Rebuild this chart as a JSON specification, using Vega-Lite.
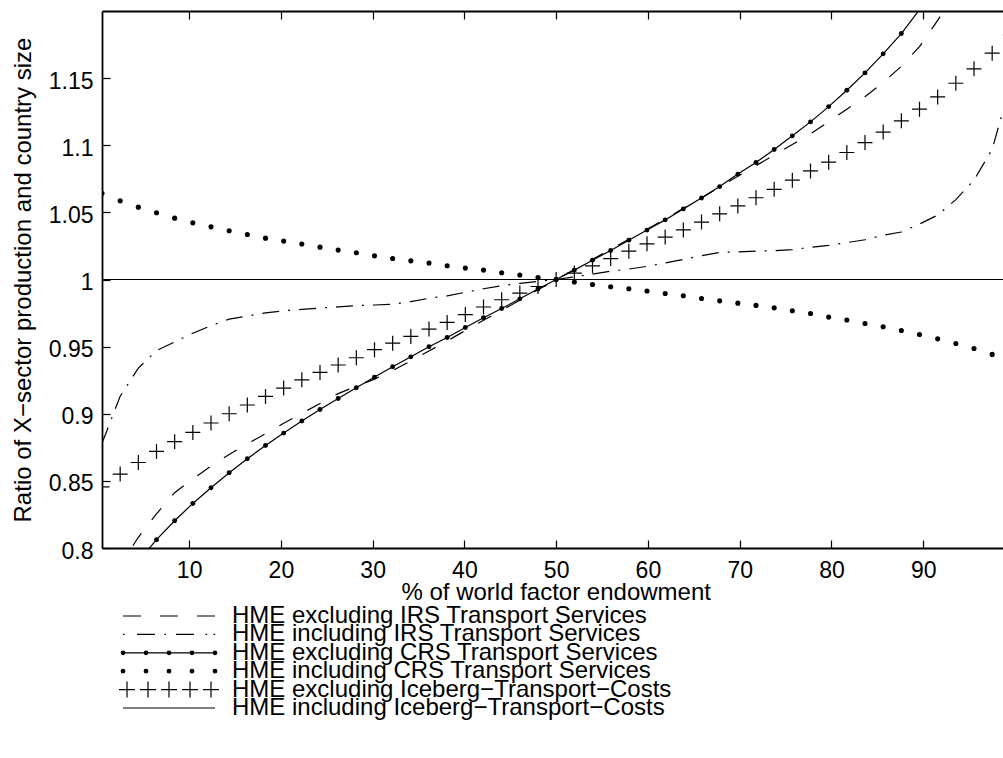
{
  "$schema": "https://vega.github.io/schema/vega-lite/v6.json",
  "width": 901,
  "height": 537,
  "autosize": {"type": "none"},
  "padding": {"left": 102, "top": 11, "right": 0, "bottom": 210},
  "background": "white",
  "config": {"view": {"stroke": null}, "font": "Liberation Sans", "axis": {"grid": false}},
  "resolve": {"axis": {"x": "independent", "y": "independent"}, "scale": {"shape": "independent"}, "legend": {"shape": "independent"}},
  "datasets": {
    "legendA": [
      {"series": "HME excluding IRS Transport Services"},
      {"series": "HME excluding CRS Transport Services"},
      {"series": "HME excluding Iceberg−Transport−Costs"}
    ],
    "legendB": [
      {"series": "HME including IRS Transport Services"},
      {"series": "HME including CRS Transport Services"},
      {"series": "HME including Iceberg−Transport−Costs"}
    ],
    "iceIncl": [{"x": 0.5, "y": 1}, {"x": 99.5, "y": 1}],
    "irsExcl": [
      {"x": 0.5, "y": 0.760}, {"x": 2.48, "y": 0.787}, {"x": 4.46, "y": 0.808}, {"x": 6.44, "y": 0.8255}, {"x": 8.42, "y": 0.8412},
      {"x": 10.4, "y": 0.8515}, {"x": 12.38, "y": 0.861}, {"x": 14.36, "y": 0.8697}, {"x": 16.34, "y": 0.8776}, {"x": 18.32, "y": 0.8852},
      {"x": 20.3, "y": 0.8929}, {"x": 22.28, "y": 0.9003}, {"x": 24.26, "y": 0.9076}, {"x": 26.24, "y": 0.915}, {"x": 28.22, "y": 0.9205},
      {"x": 30.2, "y": 0.9258}, {"x": 32.18, "y": 0.9322}, {"x": 34.16, "y": 0.9394}, {"x": 36.14, "y": 0.9468}, {"x": 38.12, "y": 0.9542},
      {"x": 40.1, "y": 0.962}, {"x": 42.08, "y": 0.9697}, {"x": 44.06, "y": 0.977}, {"x": 46.04, "y": 0.9846}, {"x": 48.02, "y": 0.9923},
      {"x": 50, "y": 1.0}, {"x": 51.98, "y": 1.0075}, {"x": 53.96, "y": 1.015}, {"x": 55.94, "y": 1.0225}, {"x": 57.92, "y": 1.03},
      {"x": 59.9, "y": 1.0375}, {"x": 61.88, "y": 1.045}, {"x": 63.86, "y": 1.053}, {"x": 65.84, "y": 1.0608}, {"x": 67.82, "y": 1.069},
      {"x": 69.8, "y": 1.0769}, {"x": 71.78, "y": 1.0848}, {"x": 73.76, "y": 1.0927}, {"x": 75.74, "y": 1.1006}, {"x": 77.72, "y": 1.1084},
      {"x": 79.7, "y": 1.1176}, {"x": 81.68, "y": 1.1269}, {"x": 83.66, "y": 1.1361}, {"x": 85.64, "y": 1.1467}, {"x": 87.62, "y": 1.1588},
      {"x": 89.6, "y": 1.1735}, {"x": 91.58, "y": 1.193}, {"x": 93.56, "y": 1.215}, {"x": 95.54, "y": 1.24}, {"x": 97.52, "y": 1.27},
      {"x": 99.5, "y": 1.30}
    ],
    "irsIncl": [
      {"x": 0.5, "y": 0.878}, {"x": 2.48, "y": 0.913}, {"x": 4.46, "y": 0.934}, {"x": 6.44, "y": 0.947}, {"x": 8.42, "y": 0.9535},
      {"x": 10.4, "y": 0.96}, {"x": 12.38, "y": 0.9656}, {"x": 14.36, "y": 0.9705}, {"x": 16.34, "y": 0.9728}, {"x": 18.32, "y": 0.9752},
      {"x": 20.3, "y": 0.9767}, {"x": 22.28, "y": 0.9777}, {"x": 24.26, "y": 0.9787}, {"x": 26.24, "y": 0.9796}, {"x": 28.22, "y": 0.9805},
      {"x": 30.2, "y": 0.981}, {"x": 32.18, "y": 0.9815}, {"x": 34.16, "y": 0.9835}, {"x": 36.14, "y": 0.986}, {"x": 38.12, "y": 0.9878},
      {"x": 40.1, "y": 0.9905}, {"x": 42.08, "y": 0.9931}, {"x": 44.06, "y": 0.9953}, {"x": 46.04, "y": 0.9971}, {"x": 48.02, "y": 0.9986},
      {"x": 50, "y": 1.0}, {"x": 51.98, "y": 1.002}, {"x": 53.96, "y": 1.004}, {"x": 55.94, "y": 1.0062}, {"x": 57.92, "y": 1.0078},
      {"x": 59.9, "y": 1.0098}, {"x": 61.88, "y": 1.0123}, {"x": 63.86, "y": 1.015}, {"x": 65.84, "y": 1.0177}, {"x": 67.82, "y": 1.0201},
      {"x": 69.8, "y": 1.0206}, {"x": 71.78, "y": 1.0211}, {"x": 73.76, "y": 1.0215}, {"x": 75.74, "y": 1.0222}, {"x": 77.72, "y": 1.024},
      {"x": 79.7, "y": 1.0254}, {"x": 81.68, "y": 1.0275}, {"x": 83.66, "y": 1.0296}, {"x": 85.64, "y": 1.033}, {"x": 87.62, "y": 1.0354},
      {"x": 89.6, "y": 1.0413}, {"x": 91.58, "y": 1.048}, {"x": 93.56, "y": 1.0595}, {"x": 95.54, "y": 1.074}, {"x": 97.52, "y": 1.097},
      {"x": 99.5, "y": 1.145}
    ],
    "crsExcl": [
      {"x": 0.5, "y": 0.750}, {"x": 2.48, "y": 0.772}, {"x": 4.46, "y": 0.790}, {"x": 6.44, "y": 0.8062}, {"x": 8.42, "y": 0.8203},
      {"x": 10.4, "y": 0.8332}, {"x": 12.38, "y": 0.8449}, {"x": 14.36, "y": 0.8561}, {"x": 16.34, "y": 0.8665}, {"x": 18.32, "y": 0.8764},
      {"x": 20.3, "y": 0.8856}, {"x": 22.28, "y": 0.8946}, {"x": 24.26, "y": 0.9032}, {"x": 26.24, "y": 0.9114}, {"x": 28.22, "y": 0.9194},
      {"x": 30.2, "y": 0.9273}, {"x": 32.18, "y": 0.935}, {"x": 34.16, "y": 0.9424}, {"x": 36.14, "y": 0.9499}, {"x": 38.12, "y": 0.9568},
      {"x": 40.1, "y": 0.9643}, {"x": 42.08, "y": 0.9715}, {"x": 44.06, "y": 0.9784}, {"x": 46.04, "y": 0.9856}, {"x": 48.02, "y": 0.9929},
      {"x": 50, "y": 1.0}, {"x": 51.98, "y": 1.007}, {"x": 53.96, "y": 1.0144}, {"x": 55.94, "y": 1.0216}, {"x": 57.92, "y": 1.0293},
      {"x": 59.9, "y": 1.0368}, {"x": 61.88, "y": 1.0444}, {"x": 63.86, "y": 1.0526}, {"x": 65.84, "y": 1.0607}, {"x": 67.82, "y": 1.0692},
      {"x": 69.8, "y": 1.0785}, {"x": 71.78, "y": 1.0871}, {"x": 73.76, "y": 1.0968}, {"x": 75.74, "y": 1.107}, {"x": 77.72, "y": 1.1174},
      {"x": 79.7, "y": 1.1288}, {"x": 81.68, "y": 1.141}, {"x": 83.66, "y": 1.1539}, {"x": 85.64, "y": 1.1681}, {"x": 87.62, "y": 1.1832},
      {"x": 89.6, "y": 1.201}, {"x": 91.58, "y": 1.2177}, {"x": 93.56, "y": 1.237}, {"x": 95.54, "y": 1.258}, {"x": 97.52, "y": 1.281},
      {"x": 99.5, "y": 1.306}
    ],
    "crsIncl": [
      {"x": 0.5, "y": 1.0643}, {"x": 2.48, "y": 1.0586}, {"x": 4.46, "y": 1.0539}, {"x": 6.44, "y": 1.0497}, {"x": 8.42, "y": 1.0457},
      {"x": 10.4, "y": 1.0422}, {"x": 12.38, "y": 1.0392}, {"x": 14.36, "y": 1.0363}, {"x": 16.34, "y": 1.0335}, {"x": 18.32, "y": 1.0308},
      {"x": 20.3, "y": 1.0286}, {"x": 22.28, "y": 1.0264}, {"x": 24.26, "y": 1.0241}, {"x": 26.24, "y": 1.0219}, {"x": 28.22, "y": 1.0199},
      {"x": 30.2, "y": 1.0176}, {"x": 32.18, "y": 1.0156}, {"x": 34.16, "y": 1.0139}, {"x": 36.14, "y": 1.0122}, {"x": 38.12, "y": 1.0102},
      {"x": 40.1, "y": 1.0085}, {"x": 42.08, "y": 1.007}, {"x": 44.06, "y": 1.005}, {"x": 46.04, "y": 1.0033}, {"x": 48.02, "y": 1.0015},
      {"x": 50, "y": 1.0}, {"x": 51.98, "y": 0.9981}, {"x": 53.96, "y": 0.9963}, {"x": 55.94, "y": 0.9946}, {"x": 57.92, "y": 0.9931},
      {"x": 59.9, "y": 0.9914}, {"x": 61.88, "y": 0.9896}, {"x": 63.86, "y": 0.9879}, {"x": 65.84, "y": 0.9859}, {"x": 67.82, "y": 0.9841},
      {"x": 69.8, "y": 0.9824}, {"x": 71.78, "y": 0.9807}, {"x": 73.76, "y": 0.9789}, {"x": 75.74, "y": 0.9767}, {"x": 77.72, "y": 0.9747},
      {"x": 79.7, "y": 0.972}, {"x": 81.68, "y": 0.9698}, {"x": 83.66, "y": 0.9672}, {"x": 85.64, "y": 0.9648}, {"x": 87.62, "y": 0.962},
      {"x": 89.6, "y": 0.959}, {"x": 91.58, "y": 0.9558}, {"x": 93.56, "y": 0.9523}, {"x": 95.54, "y": 0.9486}, {"x": 97.52, "y": 0.9442},
      {"x": 99.5, "y": 0.939}
    ],
    "iceExcl": [
      {"x": 0.5, "y": 0.8455}, {"x": 2.48, "y": 0.8551}, {"x": 4.46, "y": 0.8637}, {"x": 6.44, "y": 0.8719}, {"x": 8.42, "y": 0.8792},
      {"x": 10.4, "y": 0.8861}, {"x": 12.38, "y": 0.8931}, {"x": 14.36, "y": 0.9}, {"x": 16.34, "y": 0.9065}, {"x": 18.32, "y": 0.9129},
      {"x": 20.3, "y": 0.9191}, {"x": 22.28, "y": 0.9253}, {"x": 24.26, "y": 0.9308}, {"x": 26.24, "y": 0.9363}, {"x": 28.22, "y": 0.9417},
      {"x": 30.2, "y": 0.9477}, {"x": 32.18, "y": 0.9526}, {"x": 34.16, "y": 0.9576}, {"x": 36.14, "y": 0.9631}, {"x": 38.12, "y": 0.968},
      {"x": 40.1, "y": 0.9739}, {"x": 42.08, "y": 0.9795}, {"x": 44.06, "y": 0.9849}, {"x": 46.04, "y": 0.9899}, {"x": 48.02, "y": 0.9948},
      {"x": 50, "y": 1.0}, {"x": 51.98, "y": 1.0048}, {"x": 53.96, "y": 1.0102}, {"x": 55.94, "y": 1.0156}, {"x": 57.92, "y": 1.0211},
      {"x": 59.9, "y": 1.0266}, {"x": 61.88, "y": 1.0316}, {"x": 63.86, "y": 1.0369}, {"x": 65.84, "y": 1.0428}, {"x": 67.82, "y": 1.0489},
      {"x": 69.8, "y": 1.0548}, {"x": 71.78, "y": 1.0609}, {"x": 73.76, "y": 1.0672}, {"x": 75.74, "y": 1.074}, {"x": 77.72, "y": 1.0809},
      {"x": 79.7, "y": 1.0874}, {"x": 81.68, "y": 1.0946}, {"x": 83.66, "y": 1.102}, {"x": 85.64, "y": 1.1098}, {"x": 87.62, "y": 1.1182},
      {"x": 89.6, "y": 1.1269}, {"x": 91.58, "y": 1.136}, {"x": 93.56, "y": 1.1462}, {"x": 95.54, "y": 1.1569}, {"x": 97.52, "y": 1.1686},
      {"x": 99.5, "y": 1.1822}
    ]
  },
  "layer": [
    {
      "data": {"name": "iceIncl"},
      "mark": {"type": "line", "color": "black", "strokeWidth": 1.1, "clip": true},
      "encoding": {
        "x": {
          "field": "x", "type": "quantitative",
          "scale": {"domain": [0.5, 98.7], "nice": false, "zero": false},
          "axis": {
            "orient": "bottom", "values": [10, 20, 30, 40, 50, 60, 70, 80, 90], "format": ".2~f",
            "title": "% of world factor endowment",
            "domainColor": "black", "domainWidth": 1.8, "tickColor": "black", "tickWidth": 1.2, "tickSize": -8,
            "labelFont": "Liberation Sans", "labelFontSize": 23, "labelColor": "black", "labelBaseline": "alphabetic",
            "labelPadding": 37.7, "labelFlush": false, "labelOverlap": false,
            "titleFont": "Liberation Sans", "titleFontSize": 24, "titleFontWeight": "normal", "titleColor": "black",
            "titleX": 453.7, "titleY": 51, "titleAlign": "center", "titleBaseline": "alphabetic"
          }
        },
        "y": {
          "field": "y", "type": "quantitative",
          "scale": {"domain": [0.8, 1.2], "nice": false, "zero": false},
          "axis": {
            "orient": "left", "values": [0.8, 0.85, 0.9, 0.95, 1, 1.05, 1.1, 1.15], "format": ".2~f",
            "title": "Ratio of X−sector production and country size",
            "domainColor": "black", "domainWidth": 1.8, "tickColor": "black", "tickWidth": 1.2, "tickSize": -8,
            "labelFont": "Liberation Sans", "labelFontSize": 23, "labelColor": "black", "labelBaseline": "alphabetic",
            "labelOffset": 10, "labelPadding": 17, "labelAlign": "right", "labelFlush": false, "labelOverlap": false,
            "titleFont": "Liberation Sans", "titleFontSize": 24, "titleFontWeight": "normal", "titleColor": "black",
            "titleX": -71.3, "titleY": 268.5, "titleAngle": -90, "titleAlign": "center", "titleBaseline": "alphabetic"
          }
        }
      }
    },
    {
      "data": {"name": "irsExcl"},
      "mark": {"type": "line", "color": "black", "strokeWidth": 1.2, "strokeDash": [15, 17], "clip": true},
      "encoding": {
        "x": {
          "field": "x", "type": "quantitative",
          "axis": {
            "orient": "top", "values": [10, 20, 30, 40, 50, 60, 70, 80, 90], "labels": false, "title": null,
            "domainColor": "black", "domainWidth": 1.8, "tickColor": "black", "tickWidth": 1.2, "tickSize": -8
          }
        },
        "y": {"field": "y", "type": "quantitative", "axis": null}
      }
    },
    {
      "data": {"name": "irsIncl"},
      "mark": {"type": "line", "color": "black", "strokeWidth": 1.2, "strokeDash": [17, 9, 2, 9], "clip": true},
      "encoding": {
        "x": {"field": "x", "type": "quantitative", "axis": null},
        "y": {"field": "y", "type": "quantitative", "axis": null}
      }
    },
    {
      "data": {"name": "crsExcl"},
      "mark": {"type": "line", "color": "black", "strokeWidth": 1.2, "clip": true},
      "encoding": {
        "x": {"field": "x", "type": "quantitative", "axis": null},
        "y": {"field": "y", "type": "quantitative", "axis": null}
      }
    },
    {
      "data": {"name": "crsExcl"},
      "mark": {"type": "point", "shape": "circle", "filled": true, "color": "black", "size": 24, "opacity": 1, "clip": true},
      "encoding": {
        "x": {"field": "x", "type": "quantitative", "axis": null},
        "y": {"field": "y", "type": "quantitative", "axis": null}
      }
    },
    {
      "data": {"name": "crsIncl"},
      "mark": {"type": "point", "shape": "circle", "filled": true, "color": "black", "size": 26, "opacity": 1, "clip": true},
      "encoding": {
        "x": {"field": "x", "type": "quantitative", "axis": null},
        "y": {"field": "y", "type": "quantitative", "axis": null}
      }
    },
    {
      "data": {"name": "iceExcl"},
      "mark": {"type": "point", "shape": "M-1,0H1M0,-1V1", "filled": false, "color": "black", "strokeWidth": 1.2, "size": 225, "opacity": 1, "clip": true},
      "encoding": {
        "x": {"field": "x", "type": "quantitative", "axis": null},
        "y": {"field": "y", "type": "quantitative", "axis": null}
      }
    },
    {
      "data": {"name": "legendA"},
      "mark": {"type": "point", "filled": false, "color": "black", "strokeWidth": 1.2, "opacity": 0, "size": 4, "clip": true},
      "encoding": {
        "shape": {
          "field": "series", "type": "nominal",
          "scale": {
            "domain": [
              "HME excluding IRS Transport Services",
              "HME excluding CRS Transport Services",
              "HME excluding Iceberg−Transport−Costs"
            ],
            "range": [
              "M-46,0H-28M-9,0H9M28,0H46",
              "M-46,0H46M-44.2,0A1.8,1.8,0,1,1,-47.8,0A1.8,1.8,0,1,1,-44.2,0M-45.3,0A0.7,0.7,0,1,1,-46.7,0A0.7,0.7,0,1,1,-45.3,0M-21.2,0A1.8,1.8,0,1,1,-24.8,0A1.8,1.8,0,1,1,-21.2,0M-22.3,0A0.7,0.7,0,1,1,-23.7,0A0.7,0.7,0,1,1,-22.3,0M1.8,0A1.8,1.8,0,1,1,-1.8,0A1.8,1.8,0,1,1,1.8,0M0.7,0A0.7,0.7,0,1,1,-0.7,0A0.7,0.7,0,1,1,0.7,0M24.8,0A1.8,1.8,0,1,1,21.2,0A1.8,1.8,0,1,1,24.8,0M23.7,0A0.7,0.7,0,1,1,22.3,0A0.7,0.7,0,1,1,23.7,0M47.8,0A1.8,1.8,0,1,1,44.2,0A1.8,1.8,0,1,1,47.8,0M46.7,0A0.7,0.7,0,1,1,45.3,0A0.7,0.7,0,1,1,46.7,0",
              "M-50,0H-34M-42,-8V8M-29,0H-13M-21,-8V8M-8,0H8M0,-8V8M13,0H29M21,-8V8M34,0H50M42,-8V8"
            ]
          },
          "legend": {
            "orient": "none", "legendX": 55, "legendY": 593, "title": null, "direction": "vertical",
            "labelFont": "Liberation Sans", "labelFontSize": 24, "labelColor": "black", "labelLimit": 800,
            "labelOffset": 51, "symbolOffset": 0, "rowPadding": 12.8, "padding": 0,
            "symbolSize": 4, "symbolStrokeWidth": 1.2, "symbolFillColor": "black", "symbolStrokeColor": "black", "symbolOpacity": 1,
            "encode": {"symbols": {"update": {"opacity": {"value": 1}}}}
          }
        }
      }
    },
    {
      "data": {"name": "legendB"},
      "mark": {"type": "point", "filled": false, "color": "black", "strokeWidth": 1.2, "opacity": 0, "size": 4, "clip": true},
      "encoding": {
        "shape": {
          "field": "series", "type": "nominal",
          "scale": {
            "domain": [
              "HME including IRS Transport Services",
              "HME including CRS Transport Services",
              "HME including Iceberg−Transport−Costs"
            ],
            "range": [
              "M-46,0H-44.5M-32,0H-14M-4.5,0H-3M7,0H25M36.5,0H38M44.5,0H46",
              "M-44.2,0A1.8,1.8,0,1,1,-47.8,0A1.8,1.8,0,1,1,-44.2,0M-45.3,0A0.7,0.7,0,1,1,-46.7,0A0.7,0.7,0,1,1,-45.3,0M-21.2,0A1.8,1.8,0,1,1,-24.8,0A1.8,1.8,0,1,1,-21.2,0M-22.3,0A0.7,0.7,0,1,1,-23.7,0A0.7,0.7,0,1,1,-22.3,0M1.8,0A1.8,1.8,0,1,1,-1.8,0A1.8,1.8,0,1,1,1.8,0M0.7,0A0.7,0.7,0,1,1,-0.7,0A0.7,0.7,0,1,1,0.7,0M24.8,0A1.8,1.8,0,1,1,21.2,0A1.8,1.8,0,1,1,24.8,0M23.7,0A0.7,0.7,0,1,1,22.3,0A0.7,0.7,0,1,1,23.7,0M47.8,0A1.8,1.8,0,1,1,44.2,0A1.8,1.8,0,1,1,47.8,0M46.7,0A0.7,0.7,0,1,1,45.3,0A0.7,0.7,0,1,1,46.7,0",
              "M-46,0H46"
            ]
          },
          "legend": {
            "orient": "none", "legendX": 55, "legendY": 611.4, "title": null, "direction": "vertical",
            "labelFont": "Liberation Sans", "labelFontSize": 24, "labelColor": "black", "labelLimit": 800,
            "labelOffset": 51, "symbolOffset": 0, "rowPadding": 12.8, "padding": 0,
            "symbolSize": 4, "symbolStrokeWidth": 1.2, "symbolFillColor": "black", "symbolStrokeColor": "black", "symbolOpacity": 1,
            "encode": {"symbols": {"update": {"opacity": {"value": 1}}}}
          }
        }
      }
    }
  ]
}
